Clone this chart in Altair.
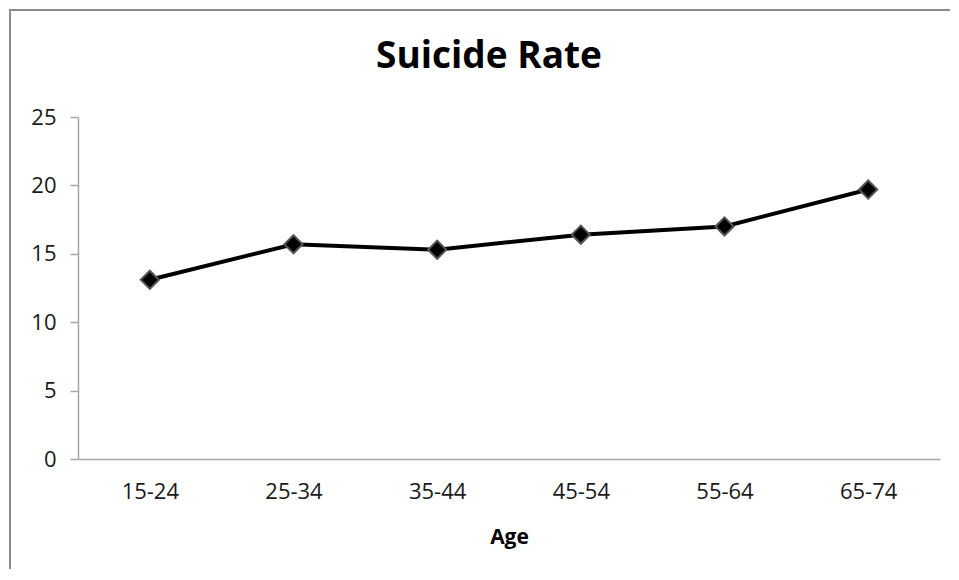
import altair as alt
import pandas as pd

ages = ["15-24", "25-34", "35-44", "45-54", "55-64", "65-74"]
rates = [13.1, 15.7, 15.3, 16.4, 17.0, 19.7]
title_text = ["Suicide Rate"]

df = pd.DataFrame({"Age": ages, "Rate": rates})
tdf = pd.DataFrame({"t": title_text})

FONT = "Open Sans"

x_enc = alt.X("Age:N", sort=ages, title="Age",
              scale=alt.Scale(type="point", padding=0.5),
              axis=alt.Axis(labelAngle=0, ticks=False, tickSize=0, labelPadding=22,
                            labelFontSize=22, labelFont=FONT, labelColor="#1a1a1a",
                            titleFont=FONT, titleFontSize=21, titleFontWeight="bold",
                            titleColor="#000000", titlePadding=24,
                            domainColor="#a6a6a6", domainWidth=1.5, grid=False))
y_enc = alt.Y("Rate:Q", title=None,
              scale=alt.Scale(domain=[0, 25], nice=False),
              axis=alt.Axis(values=[0, 5, 10, 15, 20, 25], tickSize=8, tickColor="#a6a6a6",
                            tickWidth=1.5, labelPadding=14, labelFontSize=22, labelFont=FONT,
                            labelColor="#1a1a1a", domainColor="#a6a6a6", domainWidth=1.5,
                            grid=False))

line = alt.Chart(df).mark_line(color="black", strokeWidth=4).encode(x=x_enc, y=y_enc)
pts = alt.Chart(df).mark_point(shape="diamond", filled=True, fill="black", size=330,
                               stroke="#555555", strokeWidth=2, opacity=1).encode(x=x_enc, y=y_enc)

title = alt.Chart(tdf).mark_text(font=FONT, fontSize=37, fontWeight="bold", color="#000000",
                                 align="center", baseline="alphabetic").encode(
    x=alt.value(411), y=alt.value(-49), text="t:N")

# decorative chart border (left and top edges)
border_left = alt.Chart(df).mark_rule(color="#8c8c8c", strokeWidth=2).encode(
    x=alt.value(-68), y=alt.value(-108), y2=alt.value(480))
border_top = alt.Chart(df).mark_rule(color="#8c8c8c", strokeWidth=2).encode(
    x=alt.value(-69), x2=alt.value(880), y=alt.value(-107))

chart = alt.layer(border_left, border_top, title, line, pts).properties(
    width=862, height=342,
    autosize=alt.AutoSizeParams(type="none"),
    padding={"left": 70, "top": 109, "right": 10, "bottom": 110},
).configure(background="white").configure_view(stroke=None)

chart.save("out.html", embed_options={"renderer": "svg", "actions": False})
